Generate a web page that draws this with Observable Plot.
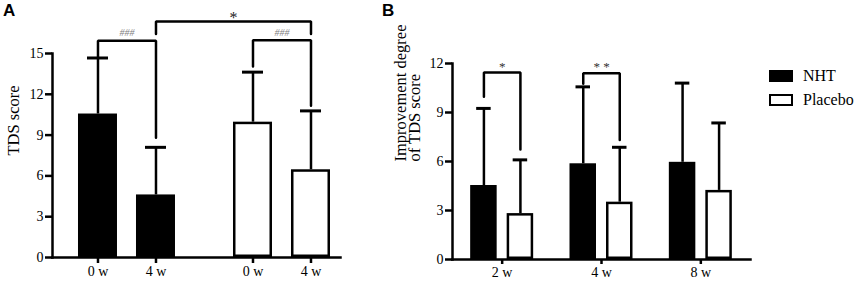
<!DOCTYPE html>
<html><head><meta charset="utf-8">
<script src="https://cdn.jsdelivr.net/npm/d3@7"></script>
<script src="https://cdn.jsdelivr.net/npm/@observablehq/plot@0.6"></script>
<style>
body{margin:0;background:#fff;}
#wrap{position:relative;width:858px;height:281px;font-family:'Liberation Serif',serif;color:#000;}
#a,#b{position:absolute;top:0;}
#a{left:0;} #b{left:370px;}
.tag{position:absolute;top:1px;font:bold 17px 'Liberation Sans',Arial,sans-serif;}
#legend{position:absolute;left:769px;top:64px;font-size:16px;}
.item{display:flex;align-items:center;height:24px;}
.sw{width:24px;height:12px;box-sizing:border-box;border:2.5px solid #000;margin-right:10px;}
</style></head><body>
<div id="wrap">
<div id="a"></div><div id="b"></div>
<div class="tag" style="left:3px">A</div><div class="tag" style="left:382px">B</div>
<div id="legend"></div>
</div>
<script>
// ---------- data ----------
const groupsA = ["NHT", "Placebo"];
const timesA = ["0 w", "4 w"];
const meansA = [[10.55, 4.6], [9.95, 6.45]];
const sdA = [[4.12, 3.5], [3.68, 4.33]];
const ticksA = [0, 3, 6, 9, 12, 15];
const labelA = "TDS score";

const timesB = ["2 w", "4 w", "8 w"];
const seriesB = ["NHT", "Placebo"];
const meansB = [[4.53, 5.86, 5.95], [2.81, 3.51, 4.23]];
const sdB = [[4.72, 4.71, 4.85], [3.29, 3.36, 4.13]];
const ticksB = [0, 3, 6, 9, 12];
const labelB = "Improvement degree\nof TDS score";

const colors = {NHT: "#000", Placebo: "#fff"};

// significance brackets (value units)
const bracketsA = [
  {g1: "NHT", t1: "0 w", g2: "NHT", t2: "4 w", top: 15.93, y1: 14.66, y2: 8.8, label: "###", labelY: 16.5},
  {g1: "Placebo", t1: "0 w", g2: "Placebo", t2: "4 w", top: 15.98, y1: 14.04, y2: 11.15, label: "###", labelY: 16.5},
  {g1: "NHT", t1: "4 w", g2: "Placebo", t2: "4 w", top: 17.35, y1: 16.43, y2: 16.43, label: "*", labelY: 17.6}
];
const bracketsB = [
  {t: "2 w", s1: "NHT", s2: "Placebo", top: 11.45, y1: 9.96, y2: 6.73, label: "*", labelY: 11.8},
  {t: "4 w", s1: "NHT", s2: "Placebo", top: 11.41, y1: 10.76, y2: 7.32, label: "* *", labelY: 11.8}
];

// ---------- layout ----------
const H = 281;
const font = "'Liberation Serif', 'Times New Roman', serif";
const lw = 2.5;
const rx = {value: "rx", scale: null}; // offset (px) inside the facet of the bracket's first bar

// Panel A
const WA = 370, mA = {left: 52, right: 30, top: 53, bottom: 24};
const fxOptA = {type: "band", domain: groupsA, paddingInner: 0.142, paddingOuter: 0, round: false};
const fxA = Plot.scale({fx: {...fxOptA, range: [mA.left, WA - mA.right]}});
const xOptA = {type: "band", domain: timesA, paddingInner: 0.3276, paddingOuter: 0.3103, align: 0.722, round: false};
const xA = Plot.scale({x: {...xOptA, range: [mA.left, mA.left + fxA.bandwidth]}});
// position of band t of facet g2, expressed inside facet g1 (band-start convention)
const rA = (g1, g2, t) => xA.apply(t) + fxA.apply(g2) - fxA.apply(g1);

const rowsA = groupsA.flatMap((g, i) => timesA.map((t, j) => ({group: g, time: t, mean: meansA[i][j], sd: sdA[i][j]})));
const bPtsA = bracketsA.flatMap((b, i) => {
  const a = rA(b.g1, b.g1, b.t1), c = rA(b.g1, b.g2, b.t2);
  return [[a, b.y1], [a, b.top], [c, b.top], [c, b.y2]].map(([x, y]) => ({id: i, g: b.g1, rx: x, y}));
});
const bLabA = bracketsA.map(b => ({...b, g: b.g1, rx: (rA(b.g1, b.g1, b.t1) + rA(b.g1, b.g2, b.t2)) / 2}));

const chartA = Plot.plot({
  width: WA, height: H,
  marginLeft: mA.left, marginRight: mA.right, marginTop: mA.top, marginBottom: mA.bottom,
  style: {fontFamily: font, fontSize: "14px", color: "#000", background: "transparent", overflow: "visible"},
  fx: {...fxOptA, axis: null, label: null},
  x: {...xOptA, label: null},
  y: {domain: [0, 15], label: null},
  marks: [
    Plot.barY(rowsA, {fx: "group", x: "time", y: "mean", fill: d => colors[d.group], stroke: "#000", strokeWidth: lw, inset: lw / 2}),
    Plot.ruleX(rowsA, {fx: "group", x: "time", y1: "mean", y2: d => d.mean + d.sd, strokeWidth: lw}),
    Plot.tickY(rowsA, {fx: "group", x: "time", y: d => d.mean + d.sd, strokeWidth: lw + 0.5, inset: 9}),
    Plot.axisX({tickSize: 6, strokeWidth: lw, tickPadding: 3, fontSize: 14, label: null}),
    Plot.axisY({ticks: ticksA, tickSize: 7, strokeWidth: lw, tickPadding: 2, fontSize: 14, label: null}),
    Plot.frame({anchor: "bottom", facet: "super", strokeWidth: lw}),
    Plot.frame({anchor: "left", facet: "super", strokeWidth: lw}),
    Plot.text([labelA], {frameAnchor: "left", rotate: -90, dx: -38.5, facet: "super", fontSize: 16.5}),
    Plot.line(bPtsA, {fx: "g", x: rx, y: "y", z: "id", strokeWidth: lw, strokeLinejoin: "miter"}),
    Plot.text(bLabA.filter(b => b.label === "###"), {fx: "g", x: rx, y: "labelY", text: "label",
      fill: "#808080", fontSize: 10, fontStyle: "italic"}),
    Plot.text(bLabA.filter(b => b.label !== "###"), {fx: "g", x: rx, y: "labelY", text: "label",
      fill: "#222", fontSize: 16})
  ]
});
document.getElementById("a").append(chartA);

// Panel B
const WB = 488, mB = {left: 82, right: 108, top: 63, bottom: 22};
const fxOptB = {type: "band", domain: timesB, paddingInner: 0, paddingOuter: 0, round: false};
const fxB = Plot.scale({fx: {...fxOptB, range: [mB.left, WB - mB.right]}});
const xOptB = {type: "band", domain: seriesB, paddingInner: 0.274, paddingOuter: 0.4977, align: 0.5, round: false};
const xB = Plot.scale({x: {...xOptB, range: [mB.left, mB.left + fxB.bandwidth]}});

const rowsB = seriesB.flatMap((s, i) => timesB.map((t, j) => ({series: s, time: t, mean: meansB[i][j], sd: sdB[i][j]})));
const bPtsB = bracketsB.flatMap((b, i) => {
  const a = xB.apply(b.s1), c = xB.apply(b.s2);
  return [[a, b.y1], [a, b.top], [c, b.top], [c, b.y2]].map(([x, y]) => ({id: i, t: b.t, rx: x, y}));
});
const bLabB = bracketsB.map(b => ({...b, rx: (xB.apply(b.s1) + xB.apply(b.s2)) / 2}));

const chartB = Plot.plot({
  width: WB, height: H,
  marginLeft: mB.left, marginRight: mB.right, marginTop: mB.top, marginBottom: mB.bottom,
  style: {fontFamily: font, fontSize: "14px", color: "#000", background: "transparent", overflow: "visible"},
  fx: {...fxOptB, label: null},
  x: {...xOptB, axis: null, label: null},
  y: {domain: [0, 12], label: null},
  marks: [
    Plot.barY(rowsB, {fx: "time", x: "series", y: "mean", fill: d => colors[d.series], stroke: "#000", strokeWidth: lw, inset: lw / 2}),
    Plot.ruleX(rowsB, {fx: "time", x: "series", y1: "mean", y2: d => d.mean + d.sd, strokeWidth: lw}),
    Plot.tickY(rowsB, {fx: "time", x: "series", y: d => d.mean + d.sd, strokeWidth: lw + 0.5, inset: 6}),
    Plot.axisFx({anchor: "bottom", tickSize: 5, strokeWidth: lw, tickPadding: 3, fontSize: 14, label: null}),
    Plot.axisY({ticks: ticksB, tickSize: 7, strokeWidth: lw, tickPadding: 2, fontSize: 14, label: null}),
    Plot.frame({anchor: "bottom", facet: "super", strokeWidth: lw}),
    Plot.frame({anchor: "left", facet: "super", strokeWidth: lw}),
    Plot.text([labelB], {frameAnchor: "left", rotate: -90, dx: -44, facet: "super", fontSize: 16.5, lineHeight: 0.85}),
    Plot.line(bPtsB, {fx: "t", x: rx, y: "y", z: "id", strokeWidth: lw, strokeLinejoin: "miter"}),
    Plot.text(bLabB, {fx: "t", x: rx, y: "labelY", text: "label", fill: "#333", fontSize: 13})
  ]
});
document.getElementById("b").append(chartB);

// Legend
const leg = document.getElementById("legend");
for (const s of seriesB) {
  const it = document.createElement("div");
  it.className = "item";
  const sw = document.createElement("div");
  sw.className = "sw";
  sw.style.background = colors[s];
  const tx = document.createElement("span");
  tx.textContent = s;
  it.append(sw, tx);
  leg.append(it);
}
</script>
</body></html>
